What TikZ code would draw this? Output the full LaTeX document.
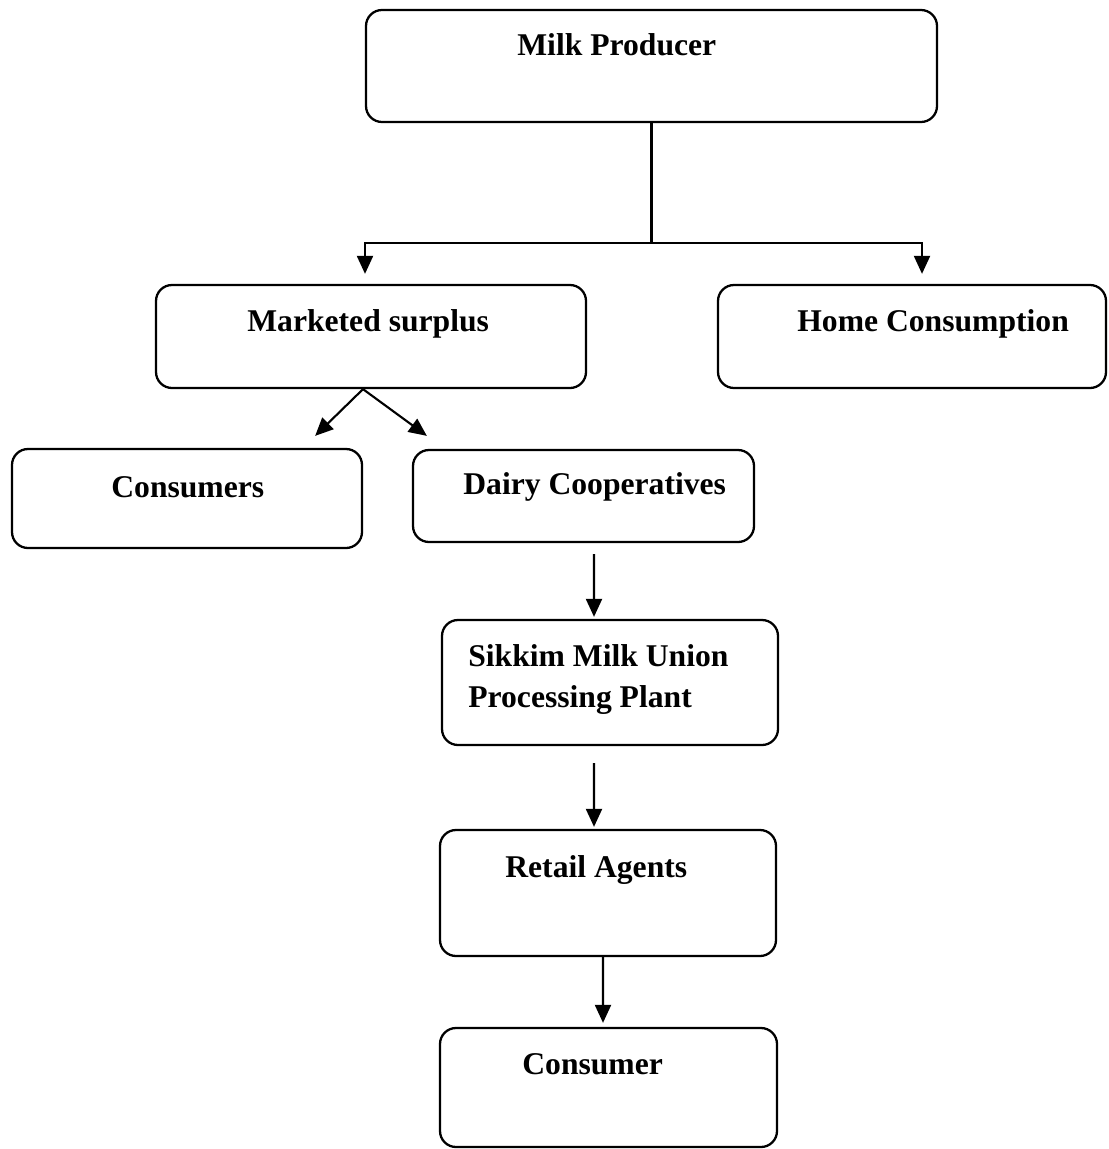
\documentclass[tikz,border=0pt]{standalone}
\usepackage{fontspec}
\setmainfont{Liberation Serif}
\usetikzlibrary{arrows.meta}

\tikzset{
  box/.style={draw=black, line width=1.3pt, rounded corners=0.32cm, inner sep=0pt},
  lbl/.style={font=\bfseries\fontsize{18}{24}\selectfont, inner sep=0pt, anchor=base west},
  arr/.style={line width=1.2pt, -{Triangle[length=0.36cm,width=0.32cm]}},
  link/.style={line width=1.2pt}
}

\begin{document}
\begin{tikzpicture}
  \useasboundingbox (0,0) rectangle (22.16,-22.98);

  % boxes
  \node[box, minimum width=11.42cm, minimum height=2.24cm] (prod) at (13.03,-1.32) {};
  \node[box, minimum width=8.6cm, minimum height=2.06cm] (surplus) at (7.42,-6.73) {};
  \node[box, minimum width=7.76cm, minimum height=2.06cm] (home) at (18.24,-6.73) {};
  \node[box, minimum width=7.0cm, minimum height=1.98cm] (consumers) at (3.74,-9.97) {};
  \node[box, minimum width=6.82cm, minimum height=1.84cm] (dairy) at (11.67,-9.92) {};
  \node[box, minimum width=6.72cm, minimum height=2.5cm] (sikkim) at (12.2,-13.65) {};
  \node[box, minimum width=6.72cm, minimum height=2.52cm] (retail) at (12.16,-17.86) {};
  \node[box, minimum width=6.74cm, minimum height=2.38cm] (consumer) at (12.17,-21.75) {};

  % texts, sat near the top of each box
  \node[lbl] (prodtxt) at (10.34,-1.12) {Milk Producer};
  \node[lbl] (surplustxt) at (4.94,-6.62) {Marketed surplus};
  \node[lbl] (hometxt) at (15.94,-6.62) {Home Consumption};
  \node[lbl] (consumerstxt) at (2.22,-9.94) {Consumers};
  \node[lbl] (dairytxt) at (9.26,-9.88) {Dairy Cooperatives};
  \node[lbl] (sikkimtxt) at (9.36,-13.32) {Sikkim Milk Union};
  \node[lbl] (planttxt) at (9.36,-14.14) {Processing Plant};
  \node[lbl] (retailtxt) at (10.1,-17.54) {Retail Agents};
  \node[lbl] (consumertxt) at (10.44,-21.48) {Consumer};

  % producer splits in two
  \coordinate (split) at (13.03,-4.86);
  \draw[link] (prod.south) -- (split);
  \draw[arr, shorten >=0.2cm] (split) -| ([xshift=-0.12cm]surplus.north);
  \draw[arr, shorten >=0.2cm] (split) -| ([xshift=0.2cm]home.north);

  % marketed surplus goes two ways
  \draw[arr] ([xshift=-0.16cm]surplus.south) -- ([xshift=-0.96cm,yshift=0.24cm]consumers.north east);
  \draw[arr] ([xshift=-0.16cm]surplus.south) -- ([xshift=0.3cm,yshift=0.26cm]dairy.north west);

  % the chain down to the consumer
  \draw[arr, shorten <=0.22cm, shorten >=0.04cm] ([xshift=0.21cm]dairy.south) -- ([xshift=-0.32cm]sikkim.north);
  \draw[arr, shorten <=0.34cm, shorten >=0.04cm] ([xshift=-0.32cm]sikkim.south) -- ([xshift=-0.28cm]retail.north);
  \draw[arr, shorten >=0.08cm] ([xshift=-0.1cm]retail.south) -- ([xshift=-0.11cm]consumer.north);
\end{tikzpicture}
\end{document}
